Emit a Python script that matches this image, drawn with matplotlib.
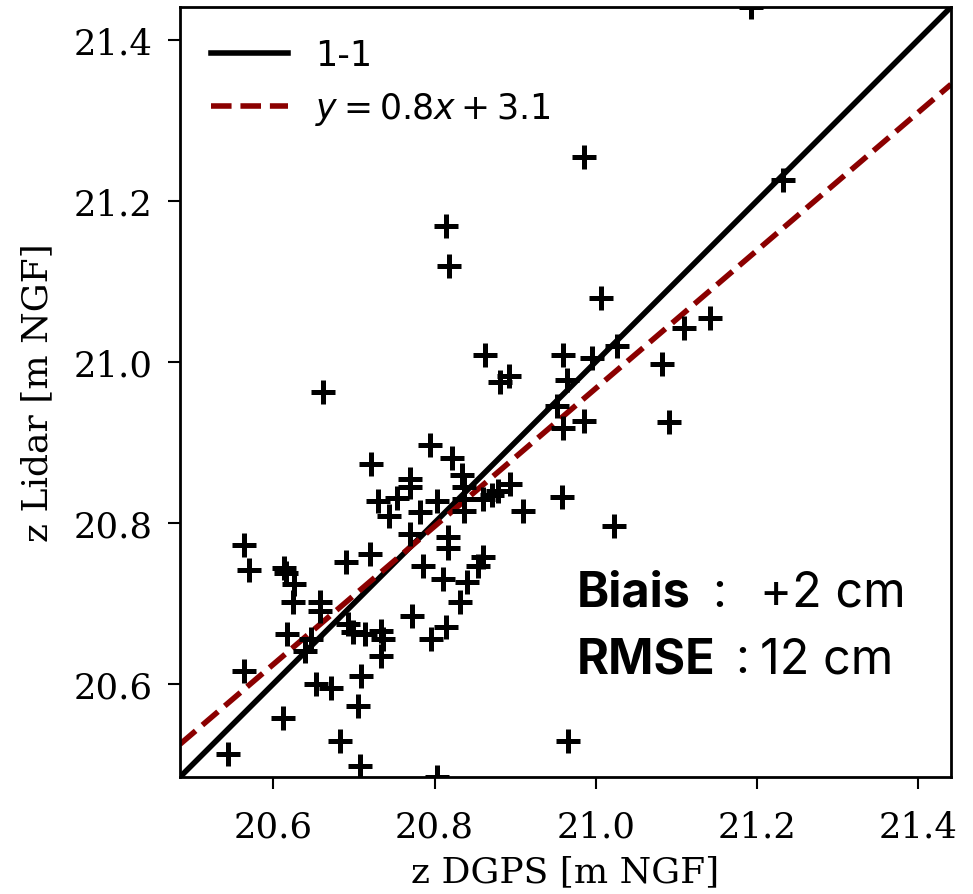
import numpy as np
import matplotlib
matplotlib.use("Agg")
import matplotlib.pyplot as plt

# z DGPS (x) vs z Lidar (y), in m NGF
z_dgps = [21.193, 20.986, 21.232, 21.007, 21.142, 21.110, 21.026, 20.996, 20.960, 20.964,
          21.082, 20.985, 21.091, 21.023, 20.966, 20.814, 20.818, 20.863, 20.892, 20.881,
          20.661, 20.952, 20.960, 20.794, 20.821, 20.721, 20.834, 20.770, 20.770, 20.894,
          20.879, 20.871, 20.860, 20.836, 20.836, 20.730, 20.753, 20.803, 20.743, 20.782,
          20.836, 20.958, 20.910, 20.770, 20.817, 20.817, 20.564, 20.720, 20.690, 20.860,
          20.854, 20.570, 20.613, 20.615, 20.626, 20.786, 20.811, 20.840, 20.831, 20.624,
          20.658, 20.658, 20.772, 20.814, 20.796, 20.693, 20.699, 20.714, 20.734, 20.736,
          20.734, 20.617, 20.639, 20.647, 20.564, 20.653, 20.672, 20.709, 20.705, 20.612,
          20.683, 20.543, 20.707, 20.803]
z_lidar = [21.441, 21.255, 21.226, 21.079, 21.055, 21.042, 21.020, 21.005, 21.008, 20.978,
           20.997, 20.926, 20.925, 20.796, 20.529, 21.169, 21.119, 21.009, 20.982, 20.975,
           20.962, 20.945, 20.918, 20.897, 20.880, 20.873, 20.860, 20.854, 20.845, 20.848,
           20.839, 20.835, 20.829, 20.844, 20.829, 20.827, 20.831, 20.827, 20.808, 20.813,
           20.815, 20.832, 20.815, 20.786, 20.782, 20.769, 20.773, 20.761, 20.751, 20.757,
           20.746, 20.741, 20.744, 20.737, 20.724, 20.746, 20.730, 20.726, 20.701, 20.702,
           20.701, 20.690, 20.684, 20.670, 20.655, 20.674, 20.664, 20.662, 20.666, 20.655,
           20.635, 20.662, 20.641, 20.655, 20.616, 20.599, 20.595, 20.609, 20.572, 20.557,
           20.529, 20.513, 20.498, 20.484]

fit_slope = 0.857
fit_intercept = 2.97
fit_label = r"$y = 0.8x + 3.1$"

fig = plt.figure(figsize=(9.73, 8.95), dpi=100)
ax = fig.add_axes([0.185, 0.1307, 0.7924, 0.8603])

lo = min(min(z_dgps), min(z_lidar))
hi = max(max(z_dgps), max(z_lidar))

ax.plot(z_dgps, z_lidar, 'k+', ms=17.5, mew=3.6, zorder=3)
ax.plot([lo, hi], [lo, hi], color='k', lw=4, label='1-1', zorder=2)
xs = np.array([lo, hi])
ax.plot(xs, fit_slope * xs + fit_intercept, color='darkred', lw=4, ls='--',
        label=fit_label, zorder=2)

ax.set_xlim(lo, hi)
ax.set_ylim(lo, hi)
ax.set_xticks([20.6, 20.8, 21.0, 21.2, 21.4])
ax.set_yticks([20.6, 20.8, 21.0, 21.2, 21.4])

for s in ax.spines.values():
    s.set_linewidth(2)
ax.tick_params(length=8.5, width=1.5, labelsize=25.5,
               labelfontfamily='DejaVu Serif')
ax.tick_params(axis='x', pad=15)
ax.tick_params(axis='y', pad=11)

ax.set_xlabel('z DGPS [m NGF]', family='DejaVu Serif', fontsize=26, labelpad=8)
ax.set_ylabel('z Lidar [m NGF]', family='DejaVu Serif', fontsize=26, labelpad=14)

ax.legend(loc='upper left', frameon=False, fontsize=25, handlelength=2.2)

# stats box
fs = 35
ax.text(0.514, 0.2225, 'Biais', transform=ax.transAxes, family='Inter',
        weight='bold', fontsize=fs, va='baseline')
ax.text(0.69, 0.2225, ':', transform=ax.transAxes, family='Inter',
        fontsize=fs, va='baseline')
ax.text(0.752, 0.2225, '+2 cm', transform=ax.transAxes, family='Inter',
        fontsize=fs, va='baseline')
ax.text(0.514, 0.136, 'RMSE', transform=ax.transAxes, family='Inter',
        weight='bold', fontsize=fs, va='baseline')
ax.text(0.72, 0.136, ':', transform=ax.transAxes, family='Inter',
        fontsize=fs, va='baseline')
ax.text(0.752, 0.136, '12 cm', transform=ax.transAxes, family='Inter',
        fontsize=fs, va='baseline')

fig.savefig('out.png', dpi=100)
